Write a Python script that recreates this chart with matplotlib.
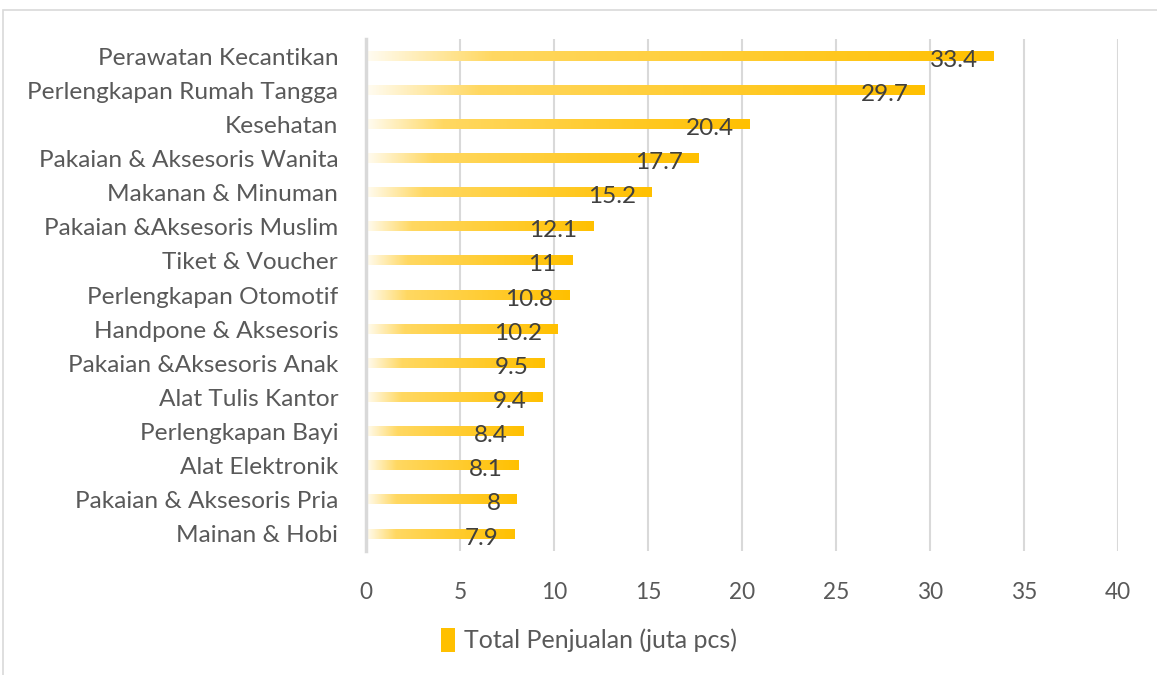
import numpy as np
import matplotlib
matplotlib.use("Agg")
import matplotlib.pyplot as plt
from matplotlib.colors import LinearSegmentedColormap
from matplotlib.patches import Rectangle, Patch

categories = [
    "Perawatan Kecantikan", "Perlengkapan Rumah Tangga", "Kesehatan",
    "Pakaian & Aksesoris Wanita", "Makanan & Minuman", "Pakaian &Aksesoris Muslim",
    "Tiket & Voucher", "Perlengkapan Otomotif", "Handpone & Aksesoris",
    "Pakaian &Aksesoris Anak", "Alat Tulis Kantor", "Perlengkapan Bayi",
    "Alat Elektronik", "Pakaian & Aksesoris Pria", "Mainan & Hobi",
]
values = [33.4, 29.7, 20.4, 17.7, 15.2, 12.1, 11, 10.8, 10.2, 9.5, 9.4, 8.4, 8.1, 8, 7.9]
value_labels = ["33.4", "29.7", "20.4", "17.7", "15.2", "12.1", "11", "10.8", "10.2",
                "9.5", "9.4", "8.4", "8.1", "8", "7.9"]
xticks = [0, 5, 10, 15, 20, 25, 30, 35, 40]
legend_label = "Total Penjualan (juta pcs)"

plt.rcParams['font.family'] = ['Lato', 'DejaVu Sans']

fig = plt.figure(figsize=(11.57, 6.75), dpi=100)
ax = fig.add_axes([0.3163, 0.1837, 0.65, 0.7585])

# outer frame
fig.patches.append(Rectangle((0.003, -0.01), 1.1, 0.995, transform=fig.transFigure,
                             fill=False, edgecolor='#D9D9D9', linewidth=1.2))

cmap = LinearSegmentedColormap.from_list(
    "gold", [(0, '#FFFCF2'), (0.2, '#FFD862'), (1, '#FFC000')])
grad = np.linspace(0, 1, 256).reshape(1, -1)

n = len(categories)
ypos = np.arange(n)[::-1]
h = 0.27
for y, v, lab in zip(ypos, values, value_labels):
    ax.imshow(grad, cmap=cmap, extent=[0, v, y - h / 2, y + h / 2],
              aspect='auto', interpolation='bilinear', zorder=2)
    ax.text(v - 0.85, y - 0.12, lab, ha='right', va='center',
            fontsize=17.5, color='#404040', zorder=3)

ax.set_xlim(0, 40)
ax.set_ylim(-0.5, n - 0.5)
ax.set_xticks(xticks)
ax.set_xticklabels([str(t) for t in xticks])
ax.set_yticks(ypos)
ax.set_yticklabels(categories)
ax.tick_params(axis='y', length=0, labelsize=17.6, labelcolor='#595959', pad=20)
ax.tick_params(axis='x', length=0, labelsize=16.3, labelcolor='#595959', pad=22)
for s in ['top', 'right', 'bottom']:
    ax.spines[s].set_visible(False)
ax.spines['left'].set_color('#D9D9D9')
ax.spines['left'].set_linewidth(2.5)
ax.grid(axis='x', color='#D9D9D9', linewidth=1.5, zorder=0)
ax.set_axisbelow(True)

handle = Patch(facecolor='#FFC000', edgecolor='none')
fig.legend([handle], [legend_label], loc='center', bbox_to_anchor=(0.509, 0.052),
           frameon=False, fontsize=18, labelcolor='#595959',
           handlelength=0.55, handleheight=1.1, handletextpad=0.35)

fig.savefig("out.png", dpi=100)
